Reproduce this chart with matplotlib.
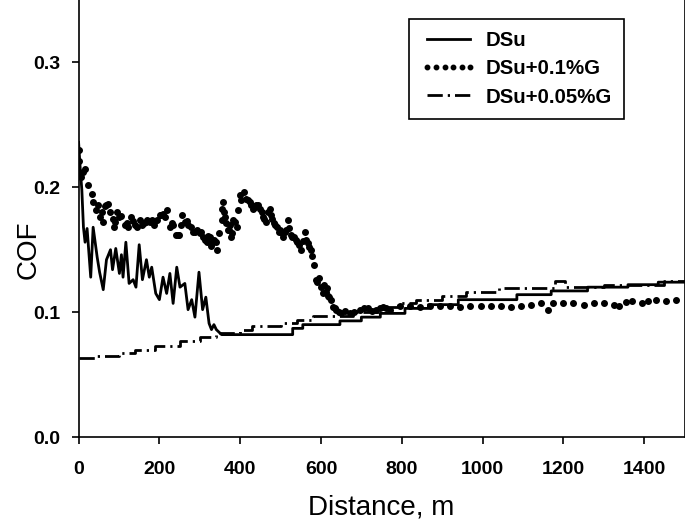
import matplotlib
matplotlib.use("Agg")
import matplotlib.pyplot as plt

plt.rcParams['font.family'] = ['Liberation Sans', 'DejaVu Sans']

# ---- data ----
dsu_x = [0, 4, 8, 12, 16, 21, 30, 36, 46, 52, 61, 69, 79, 84, 92, 101, 106, 110, 117, 125,
         135, 142, 150, 158, 168, 175, 181, 191, 200, 209, 218, 226, 234, 243, 251, 263,
         271, 280, 288, 298, 307, 315, 323, 329, 335, 341, 354,
         530, 530, 555, 555, 647, 647, 700, 700, 747, 747, 808, 808, 866, 866, 940, 940,
         1085, 1085, 1170, 1170, 1260, 1260, 1360, 1360, 1435, 1435, 1500]
dsu_y = [0.236, 0.215, 0.198, 0.168, 0.156, 0.167, 0.128, 0.168, 0.144, 0.132, 0.118, 0.142,
         0.150, 0.134, 0.151, 0.131, 0.146, 0.128, 0.156, 0.123, 0.126, 0.120, 0.154, 0.126,
         0.142, 0.128, 0.136, 0.115, 0.110, 0.128, 0.115, 0.131, 0.107, 0.136, 0.120, 0.123,
         0.102, 0.110, 0.096, 0.132, 0.102, 0.112, 0.091, 0.086, 0.090, 0.086, 0.082,
         0.082, 0.087, 0.087, 0.090, 0.090, 0.093, 0.093, 0.096, 0.096, 0.099, 0.099, 0.103,
         0.103, 0.106, 0.106, 0.110, 0.110, 0.114, 0.114, 0.117, 0.117, 0.120, 0.120, 0.122,
         0.122, 0.124, 0.124]

g01_x = [0, 0, 2, 6, 12, 16, 24, 32, 36, 43, 53, 61, 68, 72, 78, 84, 88, 96, 106, 115, 123,
         130, 135, 144, 152, 162, 170, 176, 186, 195, 201, 209, 219, 226, 234, 241, 249, 257,
         263, 271, 284, 293, 300, 308, 317, 325, 331, 336, 343, 348, 354, 358, 361, 366, 373,
         378, 383, 391, 395, 399, 409, 415, 424, 432, 440, 450, 456, 465, 473, 476, 483, 491,
         499, 506, 513, 518, 522, 529, 537, 546, 551, 560, 563, 570, 579, 582, 587, 590, 601,
         605, 608, 615, 617, 624, 630, 638, 650, 671, 696, 716, 736, 753, 770, 795, 820, 844,
         870, 895, 920, 945, 970, 995, 1020, 1045, 1070, 1095, 1120, 1145, 1161, 1174, 1200,
         1225, 1250, 1275, 1300, 1325, 1338, 1355, 1371, 1395, 1410, 1429, 1455, 1480,
         48, 58, 65, 91, 101, 119, 140, 157, 166, 181, 190, 204, 214, 230, 245, 253, 268, 278,
         289, 304, 312, 321, 328, 340, 356, 363, 370, 376, 381, 387, 403, 420, 428, 436, 445,
         453, 460, 469, 479, 487, 495, 503, 510, 526, 533, 541, 555, 567, 575, 595, 612, 620,
         634, 644, 660, 683, 706, 726, 745, 762]
g01_y = [0.230, 0.221, 0.212, 0.208, 0.212, 0.215, 0.202, 0.195, 0.188, 0.182, 0.176, 0.172,
         0.186, 0.187, 0.180, 0.175, 0.168, 0.180, 0.177, 0.170, 0.168, 0.176, 0.173, 0.168,
         0.174, 0.171, 0.174, 0.172, 0.170, 0.174, 0.178, 0.179, 0.182, 0.168, 0.170, 0.162,
         0.162, 0.178, 0.172, 0.170, 0.164, 0.166, 0.163, 0.160, 0.156, 0.160, 0.155, 0.158,
         0.150, 0.163, 0.174, 0.188, 0.180, 0.171, 0.166, 0.160, 0.174, 0.168, 0.182, 0.194,
         0.196, 0.191, 0.188, 0.183, 0.186, 0.183, 0.176, 0.172, 0.183, 0.178, 0.171, 0.168,
         0.166, 0.160, 0.166, 0.174, 0.167, 0.160, 0.158, 0.154, 0.150, 0.164, 0.158, 0.152,
         0.145, 0.138, 0.126, 0.124, 0.120, 0.115, 0.122, 0.119, 0.113, 0.110, 0.104, 0.102,
         0.099, 0.099, 0.102, 0.103, 0.102, 0.104, 0.102, 0.105, 0.105, 0.104, 0.105, 0.105,
         0.105, 0.104, 0.105, 0.105, 0.105, 0.105, 0.104, 0.105, 0.106, 0.107, 0.102, 0.107,
         0.107, 0.107, 0.106, 0.107, 0.107, 0.106, 0.105, 0.108, 0.109, 0.107, 0.109, 0.110,
         0.109, 0.110,
         0.186, 0.180, 0.185, 0.172, 0.176, 0.171, 0.170, 0.170, 0.172, 0.174, 0.173, 0.178,
         0.176, 0.171, 0.162, 0.170, 0.173, 0.168, 0.164, 0.164, 0.158, 0.161, 0.153, 0.156,
         0.183, 0.176, 0.166, 0.170, 0.163, 0.172, 0.190, 0.190, 0.186, 0.184, 0.186, 0.180,
         0.175, 0.180, 0.175, 0.170, 0.164, 0.163, 0.164, 0.162, 0.160, 0.156, 0.157, 0.155,
         0.150, 0.127, 0.116, 0.112, 0.103, 0.100, 0.101, 0.100, 0.103, 0.101, 0.103, 0.103]

g005_x = [0, 40, 40, 100, 100, 140, 140, 190, 190, 250, 250, 300, 300, 340, 340, 400, 400,
          430, 430, 500, 500, 540, 540, 580, 580, 680, 680, 740, 740, 790, 790, 835, 835, 900,
          900, 960, 960, 1040, 1040, 1180, 1180, 1205, 1205, 1300, 1300, 1450, 1450, 1500]
g005_y = [0.063, 0.063, 0.065, 0.065, 0.067, 0.067, 0.070, 0.070, 0.073, 0.073, 0.077, 0.077,
          0.080, 0.080, 0.083, 0.083, 0.086, 0.086, 0.089, 0.089, 0.091, 0.091, 0.094, 0.094,
          0.097, 0.097, 0.100, 0.100, 0.104, 0.104, 0.107, 0.107, 0.110, 0.110, 0.113, 0.113,
          0.116, 0.116, 0.119, 0.119, 0.125, 0.125, 0.120, 0.120, 0.122, 0.122, 0.125, 0.125]

labels = ["DSu", "DSu+0.1%G", "DSu+0.05%G"]
xticks = [0, 200, 400, 600, 800, 1000, 1200, 1400]
yticks = [0.0, 0.1, 0.2, 0.3]

# ---- figure ----
fig = plt.figure(figsize=(6.85, 5.26), dpi=100)
ax = fig.add_axes([78.6 / 685, 89 / 526, (684.5 - 78.6) / 685, 1 - 89 / 526])

ax.plot(dsu_x, dsu_y, color='black', lw=2.0, label=labels[0])
ax.plot(g01_x, g01_y, linestyle='none', marker='o', markersize=4.0, color='black',
        label=labels[1])
ax.plot(g005_x, g005_y, color='black', lw=2.0, linestyle=(0, (5.5, 1.8, 0.8, 1.8)),
        label=labels[2])

ax.set_xlim(0, 1500)
ax.set_ylim(0, 0.35)
ax.set_xticks(xticks)
ax.set_yticks(yticks)
ax.set_xticklabels([str(t) for t in xticks], fontsize=14, fontweight='bold')
ax.set_yticklabels([f"{t:.1f}" for t in yticks], fontsize=14, fontweight='bold')
ax.tick_params(direction='out', length=5, width=1.2)
ax.tick_params(axis='x', pad=12)
ax.tick_params(axis='y', pad=8)
ax.spines['top'].set_visible(False)
for s in ['left', 'bottom', 'right']:
    ax.spines[s].set_linewidth(1.2)

ax.set_xlabel("Distance, m", fontsize=20, labelpad=12)
ax.set_ylabel("COF", fontsize=20)
ax.yaxis.set_label_coords((42 - 78.6) / 605.9, (437 - 250) / 437)

leg = ax.legend(loc='upper left', bbox_to_anchor=(409 / 685, 1 - 19 / 526),
                bbox_transform=fig.transFigure, borderaxespad=0, numpoints=6,
                markerscale=0.8,
                fancybox=False, framealpha=1, edgecolor='black',
                prop={'weight': 'bold', 'size': 14.7}, handlelength=2.7,
                handletextpad=0.45, labelspacing=0.45, borderpad=0.6)
leg.get_frame().set_linewidth(1.2)

fig.savefig("out.png", dpi=100)
